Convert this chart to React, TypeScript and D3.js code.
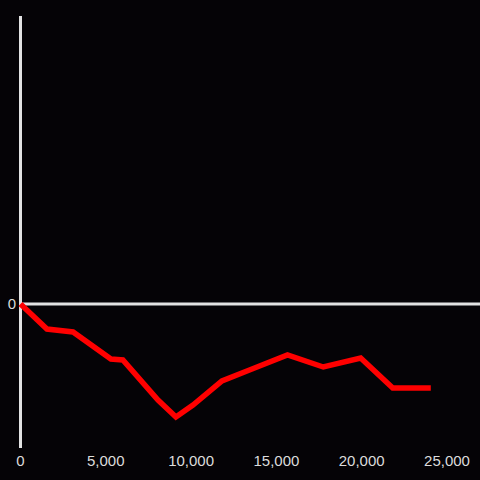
import React from "react";
import * as d3 from "d3";

const xValues = [0, 1550, 3080, 5300, 6000, 8060, 9110, 10110, 11810, 13570, 15650, 17750, 19940, 21820, 24050];
const yValues = [0, -25, -28, -55, -56, -96, -113, -101, -77, -65, -51, -63, -54, -84, -84];
const xTicks = [0, 5000, 10000, 15000, 20000, 25000];
const yTicks = [0];

export default function App() {
  const W = 480, H = 480;
  const x = d3.scaleLinear().domain([0, 25000]).range([20.5, 447]);
  const y = d3.scaleLinear().domain([-144, 288]).range([448, 16]);
  const pts = xValues.map((v, i) => [v, yValues[i]] as [number, number]);
  const line = d3.line<[number, number]>().x(d => x(d[0])).y(d => y(d[1]));
  const fmt = d3.format(",");
  const axisColor = "#e2e2e2";
  const font = "'Liberation Sans', Arial, sans-serif";
  return (
    <svg width={W} height={H} style={{ position: "absolute", left: 0, top: 0, display: "block" }}>
      <rect x={0} y={0} width={W} height={H} fill="#050306" />
      <line x1={20.5} x2={20.5} y1={16} y2={448} stroke={axisColor} strokeWidth={3} />
      <line x1={19} x2={480} y1={y(0)} y2={y(0)} stroke={axisColor} strokeWidth={3} />
      {yTicks.map(t => (
        <text key={t} x={16} y={y(t)} dy="0.35em" textAnchor="end" fill="#dcdcdc" fontSize={15} fontFamily={font}>
          {fmt(t)}
        </text>
      ))}
      {xTicks.map(t => (
        <text key={t} x={x(t)} y={466} textAnchor="middle" fill="#dcdcdc" fontSize={15} fontFamily={font}>
          {fmt(t)}
        </text>
      ))}
      <path d={line(pts) || ""} fill="none" stroke="#ff0000" strokeWidth={5.5} strokeLinejoin="miter" />
    </svg>
  );
}
